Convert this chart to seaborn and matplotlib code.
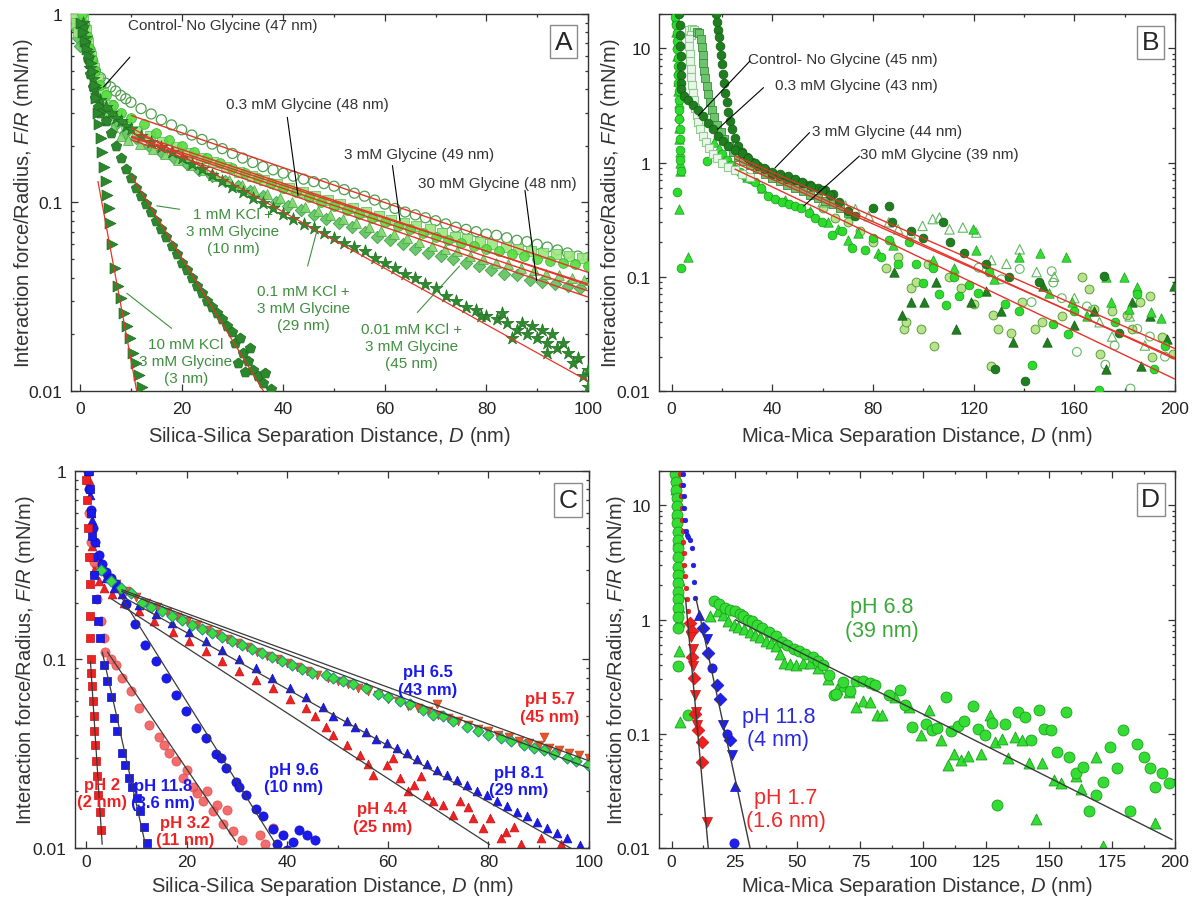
import matplotlib
matplotlib.use("Agg")
import numpy as np
import matplotlib.pyplot as plt
from matplotlib.ticker import LogLocator, NullFormatter, MultipleLocator
import seaborn as sns

sns.set_style("ticks")
plt.rcParams["font.family"] = ["Liberation Sans", "DejaVu Sans"]
plt.rcParams["mathtext.fontset"] = "custom"
plt.rcParams["mathtext.rm"] = "Liberation Sans"
plt.rcParams["mathtext.it"] = "Liberation Sans:italic"

# ---------------- Panel A: silica, glycine / KCl ----------------
a_ctrl = [(0.5,0.98),(1,0.86),(1.5,0.74),(2,0.64),(2.5,0.56),(3,0.5),(4,0.46),(5,0.43),(6,0.41),(7,0.39),(8,0.37),(9,0.355),
          (10,0.34),(12,0.315),(14,0.295),(16,0.275),(18,0.258),(20,0.243),(22,0.228),(24,0.216),(26,0.204),(28,0.193),
          (30,0.182),(32,0.172),(34,0.163),(36,0.155),(38,0.149),(40,0.143),(42,0.138),(44,0.133),(46,0.129),(48,0.126),
          (50,0.122),(52,0.117),(54,0.112),(56,0.108),(58,0.103),(60,0.098),(62,0.093),(64,0.089),(66,0.086),(68,0.083),
          (70,0.08),(72,0.077),(74,0.074),(76,0.072),(78,0.07),(80,0.068),(82,0.067),(84,0.065),(86,0.063),(88,0.062),
          (90,0.06),(92,0.058),(94,0.056),(96,0.054),(98,0.052),(100,0.051)]
a_g03 = [(0.3,1.0),(0.8,0.88),(1.3,0.76),(1.8,0.66),(2.3,0.58),(3,0.5),(4,0.42),(5,0.37),(6.5,0.33),(8,0.3),(10,0.28),
         (12.5,0.26),(15,0.235),(17.5,0.215),(20,0.2),(22.5,0.186),(25,0.173),(27.5,0.162),(30,0.152),(32.5,0.143),
         (35,0.135),(37.5,0.127),(40,0.12),(42.5,0.113),(45,0.107),(47.5,0.101),(50,0.096),(52.5,0.091),(55,0.087),
         (57.5,0.083),(60,0.079),(62.5,0.075),(65,0.072),(67.5,0.069),(70,0.066),(72.5,0.063),(75,0.061),(77.5,0.059),
         (80,0.057),(82.5,0.055),(85,0.053),(87.5,0.052),(90,0.05),(92.5,0.049),(95,0.048),(97.5,0.047),(100,0.046)]
a_g3 = [(-1.2,0.98),(-0.8,0.9),(-0.4,0.8),(0.6,0.95),(1.1,0.82),(1.6,0.7),(2.1,0.6),(2.8,0.52),(3.5,0.45),(4.5,0.38),
        (5.8,0.33),(7.2,0.29),(9,0.26),
        (11.2,0.24),(13.8,0.225),(16.2,0.21),(18.8,0.196),(21.2,0.184),(23.8,0.173),(26.2,0.163),(28.8,0.154),
        (31.2,0.146),(33.8,0.138),(36.2,0.131),(38.8,0.125),(41.2,0.119),(43.8,0.113),(46.2,0.108),(48.8,0.103),
        (51.2,0.098),(53.8,0.094),(56.2,0.089),(58.8,0.085),(61.2,0.081),(63.8,0.078),(66.2,0.075),(68.8,0.072),
        (71.2,0.069),(73.8,0.066),(76.2,0.064),(78.8,0.062),(81.2,0.06),(83.8,0.058),(86.2,0.057),(88.8,0.055),
        (91.2,0.054),(93.8,0.053),(96.2,0.052),(98.8,0.051)]
a_g30 = [(-1,0.85),(-0.5,0.75),(0,0.68),(0.4,0.9),(0.9,0.78),(1.4,0.67),(1.9,0.57),(2.5,0.48),(3.2,0.4),(4.2,0.33),
         (5.4,0.29),(7,0.26),(8.8,0.235),
         (11,0.22),(13.5,0.2),(16,0.185),(18.5,0.172),(21,0.16),(23.5,0.149),(26,0.139),(28.5,0.13),(31,0.122),
         (33.5,0.115),(36,0.108),(38.5,0.101),(41,0.096),(43.5,0.091),(46,0.086),(48.5,0.082),(51,0.078),(53.5,0.074),
         (56,0.07),(58.5,0.066),(61,0.063),(63.5,0.06),(66,0.057),(68.5,0.054),(71,0.052),(73.5,0.05),(76,0.048),
         (78.5,0.046),(81,0.044),(83.5,0.042),(86,0.041),(88.5,0.039),(91,0.038),(93.5,0.037),(96,0.036),(98.5,0.035)]
a_k001 = [(-0.5,0.95),(0.2,0.9),(1.0,0.8),(2.0,0.6),(3.5,0.42),(5,0.3),(6.5,0.25),(8,0.225),(9.5,0.215),(11.8,0.205),
          (14.3,0.192),(16.8,0.18),
          (19.3,0.169),(21.8,0.158),(24.3,0.148),(26.8,0.139),(29.3,0.131),(31.8,0.124),(34.3,0.117),(36.8,0.111),
          (39.3,0.105),(41.8,0.1),(44.3,0.095),(46.8,0.09),(49.3,0.086),(51.8,0.082),(54.3,0.078),(56.8,0.074),
          (59.3,0.071),(61.8,0.068),(64.3,0.065),(66.8,0.062),(69.3,0.059),(71.8,0.057),(74.3,0.055),(76.8,0.052),
          (79.3,0.05),(81.8,0.048),(84.3,0.047),(86.8,0.045),(89.3,0.044),(91.8,0.042),(94.3,0.041),(96.8,0.04),(99.3,0.039)]
a_k01 = [(0.5,0.9),(1,0.75),(1.5,0.62),(2,0.52),(2.5,0.45),(3,0.4),(4,0.35),(5,0.32),(6,0.3),(7,0.28),(8,0.27),(9,0.255),
         (10,0.245),(12,0.225),(14,0.21),(16,0.197),(18,0.185),(20,0.172),(22,0.161),(24,0.15),(26,0.14),(28,0.13),
         (30,0.121),(32,0.113),(34,0.105),(36,0.099),(38,0.093),(40,0.087),(42,0.082),(44,0.077),(46,0.073),(48,0.069),
         (50,0.065),(52,0.061),(54,0.058),(56,0.055),(58,0.051),(60,0.048),(62,0.045),(64,0.042),(66,0.04),(68,0.037),
         (70,0.035),(72,0.032),(74,0.03),(76,0.028),(78,0.027),(80,0.025),(82,0.024),(84,0.023),(86,0.021),(88,0.02),
         (90,0.019),(92,0.018),(94,0.017),(96,0.016),(98,0.015),(100,0.013),(83,0.026),(87,0.023),(89,0.022),(91,0.021),
         (93,0.02),(95,0.018),(97,0.014),(99,0.012),(100,0.0105),(79,0.025),(85,0.019),(92,0.016)]
a_k1 = [(0.5,0.85),(1,0.7),(1.5,0.58),(2,0.48),(2.5,0.41),(3,0.36),(3.5,0.32),(4,0.3),(5,0.27),(6,0.235),(7,0.2),
        (8,0.172),(9,0.15),(10,0.135),(11,0.12),(12,0.108),(13,0.098),(14,0.089),(15,0.08),(16,0.072),(17,0.066),
        (18,0.059),(19,0.053),(20,0.048),(21,0.044),(22,0.04),(23,0.036),(24,0.033),(25,0.03),(26,0.028),(27,0.026),
        (28,0.024),(29,0.022),(30,0.0205),(30.5,0.018),(31.5,0.019),(32,0.016),(33,0.0145),(33.5,0.017),(34,0.013),
        (35,0.012),(36,0.011),(36.5,0.0125),(37.5,0.0102),(31,0.014),(32.5,0.0126)]
a_k10 = [(0.2,0.9),(0.6,0.8),(1,0.72),(1.4,0.65),(1.8,0.6),(2.2,0.55),(2.6,0.5),(2.9,0.42),(3.2,0.36),(3.5,0.3),
         (3.8,0.26),(4.1,0.22),(4.4,0.185),(4.7,0.155),(5,0.13),(5.3,0.11),(5.6,0.094),(5.9,0.078),(6.3,0.06),
         (6.9,0.045),(7.5,0.036),(8.1,0.031),(8.7,0.026),(9.3,0.022),(9.9,0.019),(10.5,0.016),(11.1,0.014),
         (11.6,0.0122),(12.1,0.0105)]
a_fits = [((10,0.29),(100,0.0426)), ((10,0.235),(100,0.0365)), ((10,0.225),(100,0.037)), ((10,0.215),(100,0.0315)),
          ((10,0.222),(100,0.034)), ((10,0.25),(100,0.0113)), ((10,0.14),(36.3,0.0098)), ((3.5,0.13),(11.2,0.0098))]
a_labels = ["Control- No Glycine (47 nm)", "0.3 mM Glycine (48 nm)", "3 mM Glycine (49 nm)", "30 mM Glycine (48 nm)",
            "1 mM KCl +\n3 mM Glycine\n(10 nm)", "0.1 mM KCl +\n3 mM Glycine\n(29 nm)",
            "0.01 mM KCl +\n3 mM Glycine\n(45 nm)", "10 mM KCl\n3 mM Glycine\n(3 nm)"]

# ---------------- Panel B: mica, glycine ----------------
b_bright_c = [(1.5,19),(1.8,16),(2,13.5),(2.2,11.5),(2.3,9.8),(2.4,8.3),(2.5,7),(2.6,5.9),(2.7,5),(2.8,4.2),(2.9,3.5),
              (3,2.9),(3.1,2.4),(3.2,1.95),(3.3,1.6),(3.4,1.3),(3.5,1.05),(3.6,0.85),(2.3,0.55),(3.9,0.12),(13.9,1.03),
              (20,1.2),(22,1.05),(23.5,0.95),(25,0.87),(27,0.82),(29,0.77),(31,0.72),(33,0.67),(35.5,0.6),(38.4,0.51),
              (41,0.48),(43.8,0.45),(46.5,0.43),(49.1,0.42),(51.5,0.4),(54.4,0.365),(57,0.33),(59.8,0.3),(63.7,0.23),
              (67.7,0.25),(71.7,0.18),(77,0.17),(80,0.22),(83,0.15),(86.3,0.21),(90,0.13),(94.3,0.2),(97,0.13),
              (99.7,0.089),(104,0.12),(106.4,0.071),(109,0.057),(112,0.1),(114.3,0.068),(118,0.085),(121.6,0.072),
              (126,0.11),(132.3,0.058),(138,0.05),(143,0.017),(151.6,0.0385),(157.6,0.0316),(160,0.05),(169.6,0.0102),
              (176,0.04),(185,0.07),(191.7,0.0155),(196,0.025)]
b_bright_t = [(1.6,18),(1.9,14),(2.1,11),(2.3,8.5),(2.5,6.5),(2.6,5.2),(2.7,4.2),(2.8,3.3),(2.9,2.6),(3,2),(3.1,1.6),
              (3.2,1.25),(3.3,1.0),(3.3,0.85),(3,0.39),(6.5,0.148),(17,1.5),(19,1.35),(30,0.75),(36,0.6),(45,0.47),
              (55,0.38),(62,0.3),(66,0.26),(70,0.21),(74,0.24),(82,0.16),(88,0.19),(104,0.14),(112,0.12),(119.6,0.26),
              (121,0.17),(128,0.095),(138,0.15),(146.5,0.16),(150,0.072),(156.5,0.15),(159.2,0.06),(165,0.045),
              (172.5,0.1),(174.4,0.06),(179.8,0.1),(181.6,0.052),(185,0.081),(190.4,0.049),(194.4,0.044)]
b_dark_c = [(3,20),(3.2,16),(3.4,13),(3.5,10.5),(3.6,8.5),(3.7,7),(3.8,5.8),(3.9,5),(3.9,4.4),(4.8,3.8),(6.5,3.5),
            (8.5,3.2),(10.5,2.9),(12.5,2.55),(14.5,2.24),(16.5,1.95),(18.5,1.71),(20.5,1.55),(22.5,1.4),(25,1.3),
            (27.8,1.22),(30.5,1.1),(33,1.0),(36.5,0.9),(39.8,0.82),(43,0.79),(46.4,0.76),(49,0.72),(51.8,0.67),
            (55.5,0.62),(59.8,0.58),(63,0.52),(66.4,0.45),(70,0.38),(73,0.34),(80,0.4),(86.3,0.42),(87.6,0.3),(95,0.25),
            (100,0.22),(108,0.3),(110.4,0.2),(116,0.16),(125,0.13),(128.4,0.0155),(134,0.1),(140.4,0.0123),(146,0.09),
            (171.7,0.102),(177.6,0.032)]
b_dark2 = [(17.5,20),(18,17),(18.4,14.5),(18.8,12.5),(19.2,10.5),(19.6,8.8),(20,7.3),(20.4,6),(20.8,5),(21.3,4.1),
           (21.8,3.4),(22.4,2.8),(23.2,2.3),(24,1.95),(25,1.65),(26.5,1.4),(28,1.25),(30,1.12),(32,1.02),(34.5,0.94),
           (37,0.87),(40,0.8),(43,0.76),(46,0.72),(49,0.7),(52,0.66),(55,0.63),(58,0.6),(61,0.57),(64,0.53)]
b_open_s = [(7,14.5),(8,14.8),(9,14.5),(10,14),(7.5,13),(6.8,12),(7,10.5),(7.2,9),(7.4,7.7),(7.6,6.6),(7.8,5.6),
            (8.1,4.8),(8.4,4.1),(8.8,3.5),(9.3,3),(9.9,2.6),(10.6,2.25),(11.4,1.95),(12.4,1.7),(13.5,1.5),(15,1.33),
            (16.5,1.2),(18,1.1),(20,1.0),(22.5,0.92),(25,0.86),(28,0.8),(31,0.75)]
b_mid_s = [(10,14),(11,13.5),(11.6,12),(12,10.3),(12.3,8.8),(12.6,7.5),(13,6.4),(13.4,5.5),(13.9,4.7),(14.5,4),
           (15.2,3.4),(16,2.9),(17,2.5),(18.2,2.15),(19.5,1.85),(21,1.6),(22.7,1.4),(24.5,1.25),(26.5,1.13),
           (28.5,1.04),(31,0.95),(34,0.87),(37,0.8),(40,0.74),(43,0.69),(46,0.64),(49,0.6),(52,0.56),(55,0.52),
           (58,0.49),(61,0.46),(64,0.43),(67,0.4),(70,0.36)]
b_open_t = [(60,0.45),(64,0.44),(69,0.42),(73,0.39),(78.3,0.34),(86.3,0.3),(90,0.26),(95,0.24),(99.7,0.279),
            (103.7,0.32),(106.4,0.33),(110.4,0.26),(115.7,0.27),(121,0.244),(127,0.14),(133,0.13),(138.3,0.174),
            (145,0.11),(152,0.1),(160,0.065),(166,0.05),(170,0.04),(175,0.03),(182,0.045),(188,0.025)]
b_open_c = [(122,0.12),(131,0.095),(138.3,0.117),(143,0.06),(151,0.112),(151.6,0.089),(155,0.065),(161,0.022),
            (165,0.055),(172.3,0.017),(176,0.025),(182.3,0.0105),(185,0.035),(190,0.03),(196,0.02)]
b_dark_t = [(88.3,0.11),(91.6,0.046),(95,0.06),(100.4,0.06),(105,0.09),(113,0.035),(119,0.06),(125,0.075),(131,0.05),
            (135.6,0.027),(147.5,0.083),(149,0.027),(160,0.038),(168,0.05),(172.5,0.0155),(183,0.06),(186.4,0.0166),
            (190,0.045),(197,0.0285),(199.5,0.083)]
b_light_c = [(60,0.4),(65,0.33),(70,0.3),(75,0.25),(80,0.2),(85,0.12),(90,0.15),(92.5,0.035),(93,0.04),(95,0.08),
             (97,0.09),(99,0.035),(102,0.13),(104.3,0.025),(110,0.1),(115,0.08),(120,0.058),(127,0.0166),(127.7,0.046),
             (129.7,0.035),(135,0.032),(139,0.06),(144.3,0.035),(147,0.04),(155,0.045),(163,0.1),(165.7,0.078),
             (167.7,0.052),(170,0.021),(175,0.05),(181,0.046),(183,0.035),(186,0.06),(190,0.068),(191,0.02),
             (195,0.03),(199,0.021)]
b_fits = [((25,1.15),(200,0.0235)), ((25,1.08),(200,0.019)), ((25,1.0),(200,0.0195)), ((25,0.88),(200,0.0127))]
b_labels = ["Control- No Glycine (45 nm)", "0.3 mM Glycine (43 nm)", "3 mM Glycine (44 nm)", "30 mM Glycine (39 nm)"]

# ---------------- Panel C: silica, pH ----------------
c_ph2 = [(0,0.9),(0.2,0.7),(0.4,0.5),(0.55,0.35),(0.7,0.25),(0.8,0.17),(0.85,0.13),(0.9,0.1),(1.05,0.085),(1.2,0.072),
         (1.35,0.06),(1.5,0.05),(1.65,0.042),(1.8,0.035),(2,0.029),(2.2,0.024),(2.45,0.019),(2.75,0.0155),(3,0.0125)]
c_ph118 = [(0.5,1.0),(0.7,0.8),(0.9,0.6),(1.1,0.45),(1.3,0.35),(1.6,0.28),(2,0.21),(2.4,0.16),(2.86,0.13),(3.5,0.094),
           (4.2,0.077),(4.85,0.063),(5.5,0.049),(6.2,0.042),(7.2,0.032),(7.8,0.0276),(8.5,0.0234),(9.2,0.021),
           (10.2,0.0185),(10.8,0.0157),(11.5,0.013),(12.2,0.0106)]
c_ph32 = [(0.5,0.6),(1,0.42),(1.5,0.33),(2.2,0.21),(2.9,0.16),(3.5,0.13),(3.85,0.11),(5,0.1),(5.85,0.094),(7.2,0.08),
          (8.85,0.068),(10.5,0.055),(12.5,0.045),(14.5,0.039),(15.5,0.035),(16.5,0.032),(17.8,0.029),(19.2,0.0235),
          (20,0.026),(21.2,0.021),(22,0.0195),(23.2,0.0177),(24,0.02),(25.2,0.0157),(26,0.017),(27.2,0.0134),
          (28,0.016),(29.2,0.0123),(31,0.011),(34.5,0.0117),(35.5,0.0105),(37.1,0.0128)]
c_ph96 = [(0.3,1.0),(0.6,0.8),(0.9,0.62),(1.3,0.5),(1.8,0.42),(2.5,0.36),(3.2,0.32),(4,0.29),(4.9,0.27),(5.85,0.25),
          (7.85,0.196),(9.8,0.154),(11.8,0.12),(13.8,0.098),(15.8,0.08),(17.8,0.065),(19.8,0.053),(21.8,0.0435),
          (23.8,0.0385),(25.8,0.0315),(26.8,0.03),(27.8,0.0266),(29.8,0.0224),(30.5,0.021),(31.8,0.019),(33.8,0.0162),
          (35.2,0.0148),(37.2,0.0126),(38,0.0105),(39.2,0.0117),(40,0.0098),(41.2,0.0108),(42.4,0.0125),(43.9,0.0117),
          (45.5,0.011)]
c_ph44 = [(0.5,0.9),(0.9,0.6),(1.2,0.4),(1.5,0.3),(2.5,0.26),(3.5,0.24),(5.2,0.222),(7.5,0.2),(10.5,0.18),(13.5,0.16),
          (17.2,0.14),(20.5,0.125),(23.8,0.111),(27,0.098),(30.5,0.087),(33.8,0.078),(37.1,0.071),(40.5,0.062),
          (43.8,0.0556),(45.5,0.05),(47.8,0.0436),(49.1,0.04),(51.8,0.035),(54.5,0.031),(56,0.028),(57.1,0.0245),
          (59.8,0.0276),(61,0.03),(62.4,0.0235),(64,0.02),(65.1,0.0216),(66.5,0.024),(67.7,0.019),(69,0.0177),
          (71,0.017),(73,0.015),(74.4,0.0177),(76,0.0165),(77,0.0145),(79,0.0128),(80.4,0.0145),(82.4,0.0113),
          (83.5,0.0122),(85,0.013),(86.4,0.0105),(90.4,0.0113),(94.4,0.0105)]
c_ph81 = [(0.4,1.0),(0.8,0.75),(1.2,0.55),(1.7,0.42),(2.3,0.35),(3,0.3),(4,0.27),(5.5,0.24),(7.2,0.222),(10.5,0.195),
          (13.8,0.175),(17,0.157),(20.5,0.14),(23.8,0.125),(27.1,0.112),(30.5,0.1),(33.8,0.09),(37,0.08),(40.5,0.071),
          (43.8,0.063),(47.1,0.056),(49.1,0.05),(51.8,0.047),(53.5,0.044),(55.7,0.041),(57.7,0.038),(59.8,0.036),
          (61.8,0.034),(63.8,0.032),(65.7,0.0295),(67.7,0.028),(69.7,0.026),(71.7,0.0245),(73.7,0.023),(75.7,0.0215),
          (77.7,0.02),(79.7,0.019),(81.7,0.0178),(83.7,0.0168),(85.7,0.0155),(87.7,0.0148),(89.7,0.0137),
          (91.7,0.0128),(93.7,0.012),(95.7,0.0113),(98.3,0.0104),(100,0.0097)]
c_ph65 = [(3,0.3),(5,0.26),(7,0.24),(9,0.225),(11.2,0.2),(13,0.19),(15,0.18),(17,0.17),(19,0.162),(21,0.153),(23,0.146),
          (25,0.139),(27,0.132),(29,0.125),(31,0.119),(33,0.113),(35,0.108),(37,0.103),(39,0.098),(41,0.093),(43,0.089),
          (45,0.085),(47.8,0.083),(49.1,0.08),(51,0.077),(53,0.074),(55.7,0.071),(58,0.066),(60,0.063),(62.4,0.06),
          (64.5,0.058),(67,0.054),(69,0.051),(71,0.05),(73,0.047),(75.7,0.0436),(78,0.042),(80,0.04),(82.4,0.0385),
          (84.5,0.037),(87,0.035),(89,0.034),(91,0.033),(93,0.0315),(95.7,0.03),(97.5,0.029),(99.7,0.0275)]
c_ph57 = [(2,0.3),(4,0.27),(6,0.25),(8,0.23),(10,0.215),(12,0.2),(14,0.19),(16,0.178),(18,0.168),(20,0.16),(22,0.152),
          (24,0.144),(26,0.136),(28,0.129),(30,0.122),(32,0.116),(34,0.11),(36,0.105),(38,0.1),(40,0.096),(42,0.091),
          (44,0.087),(46,0.083),(48,0.08),(50,0.077),(52,0.074),(54,0.071),(56,0.068),(58,0.065),(60,0.062),(62,0.06),
          (64,0.057),(66,0.055),(68,0.053),(69.7,0.058),(70,0.051),(72,0.049),(74,0.047),(76,0.045),(78,0.043),
          (80,0.042),(82,0.04),(84,0.039),(86,0.037),(88,0.036),(90,0.035),(91,0.039),(92,0.034),(94,0.033),
          (96,0.032),(98,0.031),(100,0.03)]
c_fits = [((0.86,0.098),(3.2,0.0104)), ((3.2,0.11),(11.8,0.0104)), ((4.2,0.11),(29.8,0.0108)),
          ((5.85,0.24),(37.8,0.0104)), ((5,0.21),(80.3,0.0104)), ((8,0.21),(100,0.0088)),
          ((7,0.23),(100,0.0265)), ((7,0.235),(100,0.029))]
c_labels = ["pH 2\n(2 nm)", "pH 11.8\n(3.6 nm)", "pH 3.2\n(11 nm)", "pH 9.6\n(10 nm)", "pH 4.4\n(25 nm)",
            "pH 8.1\n(29 nm)", "pH 6.5\n(43 nm)", "pH 5.7\n(45 nm)"]

# ---------------- Panel D: mica, pH ----------------
d_c = [(1.5,19),(1.7,16),(1.9,13.5),(2,11.5),(2.1,9.8),(2.2,8.3),(2.3,7),(2.4,5.9),(2.5,5),(2.5,4.2),(2.5,3.5),
       (2.5,2.9),(2.5,2.45),(2.6,2.1),(2.6,1.76),(2.7,1.5),(2.7,1.26),(2.7,1.05),(2.5,0.85),(2.5,0.39),(6.5,0.145),
       (16.9,1.45),(19,1.38),(21.2,1.27),(23.2,1.22),(25.2,1.18),(27,1.12),(28.5,1.07),(30.3,1.0),(32,0.97),(34,0.9),
       (36,0.85),(38.5,0.78),(41.3,0.72),(44,0.64),(46,0.6),(48.5,0.55),(50.5,0.53),(53,0.5),(56,0.47),(58,0.43),
       (60,0.4),(62.6,0.33),(64.5,0.22),(65.3,0.223),(68,0.283),(70.7,0.238),(73.3,0.29),(76.1,0.29),(78.8,0.28),
       (80.8,0.27),(86.2,0.22),(90.9,0.24),(92.9,0.18),(95.6,0.114),(100.9,0.122),(103.6,0.107),(105.6,0.113),
       (109,0.208),(111,0.105),(113.7,0.118),(116.3,0.13),(119.7,0.176),(121.7,0.11),(124.4,0.097),(127.1,0.125),
       (129.1,0.0238),(132.5,0.122),(137.8,0.154),(140.5,0.14),(142.9,0.0875),(145.9,0.16),(147.9,0.11),
       (150.6,0.107),(153.3,0.069),(156.6,0.155),(158,0.063),(160.7,0.045),(163.4,0.051),(166,0.021),(168.7,0.029),
       (171.4,0.038),(174.1,0.0766),(176.8,0.05),(179.5,0.107),(182.2,0.021),(184.8,0.082),(187.5,0.063),
       (190.2,0.05),(192.2,0.034),(194.9,0.045),(197.6,0.037)]
d_t = [(1.6,18),(1.8,14),(2,11),(2.2,8.5),(2.4,6.5),(2.6,5),(2.7,3.8),(2.8,2.9),(2.9,2.2),(3,1.7),(3,1.3),(3,0.97),
       (3,0.53),(3.2,0.126),(15.2,1.07),(18.5,1.2),(20.5,1.1),(22.5,0.98),(24.6,0.9),(26.5,0.86),(28.6,0.82),(31,0.78),
       (33.3,0.74),(35.3,0.7),(37.3,0.65),(39.3,0.62),(41.3,0.59),(43,0.5),(44.6,0.42),(47,0.41),(49.3,0.4),(52,0.42),
       (55,0.42),(58,0.38),(62,0.3),(65.8,0.245),(68,0.26),(70.4,0.23),(73.3,0.17),(76.1,0.195),(78.8,0.19),
       (81.4,0.145),(83.4,0.145),(88.8,0.208),(94.2,0.17),(98.9,0.097),(102.2,0.16),(107,0.0875),(109.7,0.053),
       (112.3,0.067),(115,0.059),(117.7,0.064),(123.1,0.067),(126.4,0.145),(128.4,0.085),(131.1,0.09),(133.8,0.061),
       (136.5,0.093),(139.2,0.088),(141.9,0.055),(144.6,0.018),(147.3,0.055),(151.9,0.039),(154.6,0.037),
       (160.7,0.043),(162.7,0.033),(168.7,0.063),(171.4,0.0105),(192.2,0.0166)]
d_red_col = [(3.5,19),(3.7,15),(3.9,12),(4,9.5),(4.2,7.5),(4.4,6),(4.6,4.8),(4.8,3.8),(5,3),(5.3,2.4),(5.6,1.9),
             (6,1.5),(6.5,1.2)]
d_red_dia = [(7.2,0.94),(7.9,0.8),(8.1,0.47),(8.9,0.31),(9.3,0.15),(10.4,0.107),(11.9,0.085),(11.9,0.057)]
d_red_tri = [(7.5,0.7),(8.3,0.55),(8.5,0.39),(9.1,0.22),(9.8,0.155),(10,0.12),(13.9,0.017)]
d_blue_col = [(4.5,19),(4.7,15),(4.9,12),(5.1,9.5),(5.3,7.5),(5.6,6),(6,5.5),(6.5,5.3),(7.2,5),(7.9,4.2),(8.5,3),
              (9,2.15),(9.4,1.55)]
d_blue_dia = [(12.6,0.85),(14.6,0.51),(17.9,0.27),(19.3,0.2),(23.3,0.0875)]
d_blue_tri = [(13.9,0.67),(20.6,0.12),(24,0.065)]
d_blue_up = [(11,1.1),(25.2,0.035)]
d_blue_c = [(16,0.38),(22,0.1),(24.6,0.011)]
d_fits = [((25.2,1.0),(199,0.0118)), ((9.5,1.6),(31.3,0.0097)), ((5.5,1.55),(14.6,0.0097))]
d_labels = ["pH 6.8\n(39 nm)", "pH 11.8\n(4 nm)", "pH 1.7\n(1.6 nm)"]

RED_FIT = "#e8332b"
GRAY_FIT = "#3a3a3a"


def pts(ax, data, marker="o", fc="green", ec="black", s=30, lw=0.6, hollow=False, z=2, alpha=1.0):
    d = [p[0] for p in data]
    f = [p[1] for p in data]
    sns.scatterplot(x=d, y=f, ax=ax, marker=marker, s=s, color=fc, edgecolor=ec,
                    linewidth=lw, legend=False, zorder=z, alpha=alpha)
    if hollow:
        ax.collections[-1].set_facecolor("none")


def fits(ax, segs, color, lw=1.0):
    for (d0, f0), (d1, f1) in segs:
        ax.plot([d0, d1], [f0, f1], color=color, lw=lw, zorder=5, solid_capstyle="butt")


def leader(ax, p0, p1, color="black"):
    ax.plot([p0[0], p1[0]], [p0[1], p1[1]], color=color, lw=0.8, zorder=6)


def style(ax, xlim, ylim, xmaj, xmin, yt, ytl, xlabel, letter, lx, ly, xlab_y, ylab_x, xpad):
    ax.set_yscale("log")
    ax.set_xlim(*xlim)
    ax.set_ylim(*ylim)
    ax.xaxis.set_major_locator(MultipleLocator(xmaj))
    ax.xaxis.set_minor_locator(MultipleLocator(xmin))
    ax.set_yticks(yt, labels=ytl)
    ax.yaxis.set_minor_locator(LogLocator(base=10, subs=np.arange(2, 10)))
    ax.yaxis.set_minor_formatter(NullFormatter())
    ax.tick_params(which="both", direction="in", top=True, right=True, colors="#333333",
                   labelcolor="#222222", labelsize=12.5, width=0.9)
    ax.tick_params(which="major", length=5)
    ax.tick_params(axis="x", which="major", pad=xpad)
    ax.tick_params(axis="y", which="major", pad=6)
    ax.tick_params(which="minor", length=2.5)
    for sp in ax.spines.values():
        sp.set_color("#333333")
        sp.set_linewidth(1.0)
    ax.set_xlabel(xlabel, fontsize=14.5, color="#333333")
    ax.set_ylabel(r"Interaction force/Radius, $\mathit{F/R}$ (mN/m)", fontsize=14.5, color="#333333")
    ax.xaxis.set_label_coords(0.5, xlab_y)
    ax.yaxis.set_label_coords(ylab_x, 0.5)
    ax.text(lx, ly, letter, transform=ax.transAxes, fontsize=19, ha="center", va="center", zorder=10,
            bbox=dict(boxstyle="square,pad=0.18", fc="white", ec="#8a8a8a", lw=1.0))


fig = plt.figure(figsize=(11.95, 9.03), dpi=100)
fig.patch.set_facecolor("white")
axA = fig.add_axes([0.0594, 0.5659, 0.4326, 0.4175])
axB = fig.add_axes([0.5515, 0.5659, 0.4318, 0.4175])
axC = fig.add_axes([0.0628, 0.0598, 0.4301, 0.4175])
axD = fig.add_axes([0.5515, 0.0598, 0.4318, 0.4175])

# ---- A ----
pts(axA, a_ctrl, "o", "white", "#4f9f4f", s=52, lw=0.9, hollow=True, z=2)
pts(axA, a_g30, "D", "#5cc25c", "#3d9a3d", s=40, lw=0.6, z=3, alpha=0.9)
pts(axA, a_k001, "^", "#7fd86a", "#4aa84a", s=50, lw=0.6, z=3, alpha=0.9)
pts(axA, a_g3, "s", "#9be77e", "#5cbf5c", s=42, lw=0.6, z=3, alpha=0.9)
pts(axA, a_g03, "o", "#55dd3c", "#3fb33f", s=50, lw=0.6, z=3, alpha=0.9)
pts(axA, a_k01, "*", "#2e8b2e", "#1f6f1f", s=95, lw=0.5, z=4)
pts(axA, a_k1, "p", "#2c882c", "#1d6a1d", s=62, lw=0.5, z=4)
pts(axA, a_k10, ">", "#2c882c", "#1d6a1d", s=62, lw=0.5, z=4)
fits(axA, a_fits[:5], RED_FIT, lw=1.0)
fits(axA, a_fits[5:], RED_FIT, lw=0.9)
style(axA, (-1.8, 100), (0.01, 1), 20, 10, [0.01, 0.1, 1], ["0.01", "0.1", "1"],
      r"Silica-Silica Separation Distance, $\mathit{D}$ (nm)", "A", 0.953, 0.927, -0.088, -0.07, 7)
TXT = "#333333"
KCL = "#3f8f3f"
FS = 11
axA.text(9.5, 0.875, a_labels[0], fontsize=FS, color=TXT, ha="left", va="center")
axA.text(44.8, 0.333, a_labels[1], fontsize=FS, color=TXT, ha="center", va="center")
axA.text(66.8, 0.181, a_labels[2], fontsize=FS, color=TXT, ha="center", va="center")
axA.text(82.2, 0.127, a_labels[3], fontsize=FS, color=TXT, ha="center", va="center")
axA.text(30.1, 0.0706, a_labels[4], fontsize=FS, color=KCL, ha="center", va="center", linespacing=1.25)
axA.text(44.0, 0.0275, a_labels[5], fontsize=FS, color=KCL, ha="center", va="center", linespacing=1.25)
axA.text(65.3, 0.0173, a_labels[6], fontsize=FS, color=KCL, ha="center", va="center", linespacing=1.25)
axA.text(20.8, 0.0144, a_labels[7], fontsize=FS, color=KCL, ha="center", va="center", linespacing=1.25, zorder=7)
leader(axA, (9.8, 0.59), (4.6, 0.41))
leader(axA, (40.8, 0.283), (42.9, 0.109))
leader(axA, (61.5, 0.157), (63.0, 0.08))
leader(axA, (87.6, 0.116), (89.9, 0.0385))
leader(axA, (19.6, 0.092), (15.1, 0.096), KCL)
leader(axA, (44.8, 0.046), (46.7, 0.072), KCL)
leader(axA, (66.4, 0.0261), (74.7, 0.046), KCL)
leader(axA, (18.0, 0.0215), (9.2, 0.033), KCL)

# ---- B ----
pts(axB, b_light_c, "o", "#b7e38c", "#5a9e3a", s=40, lw=0.7, z=2)
pts(axB, b_open_t, "^", "white", "#62b862", s=46, lw=0.8, hollow=True, z=2)
pts(axB, b_open_c, "o", "white", "#62b862", s=40, lw=0.8, hollow=True, z=2)
pts(axB, b_dark_t, "^", "#1f7f1f", "#145c14", s=46, lw=0.5, z=3)
pts(axB, b_bright_t, "^", "#33dd33", "#1f9f1f", s=46, lw=0.5, z=3)
pts(axB, b_bright_c, "o", "#2bdc2b", "#1a9a1a", s=40, lw=0.5, z=3)
pts(axB, b_open_s, "s", "#eaf6ea", "#8fcc8f", s=34, lw=0.8, z=3)
pts(axB, b_mid_s, "s", "#6cc46c", "#3d8d3d", s=34, lw=0.6, z=3)
pts(axB, b_dark2, "o", "#1f7f1f", "#145c14", s=40, lw=0.5, z=3)
pts(axB, b_dark_c, "o", "#1f7f1f", "#145c14", s=40, lw=0.5, z=3)
fits(axB, b_fits, RED_FIT, lw=1.0)
style(axB, (-5, 200), (0.01, 20), 40, 20, [0.01, 0.1, 1, 10], ["0.01", "0.1", "1", "10"],
      r"Mica-Mica Separation Distance, $\mathit{D}$ (nm)", "B", 0.953, 0.925, -0.088, -0.072, 7)
axB.text(30.3, 8.0, b_labels[0], fontsize=FS, color=TXT, ha="left", va="center")
axB.text(41.1, 4.74, b_labels[1], fontsize=FS, color=TXT, ha="left", va="center")
axB.text(55.9, 1.89, b_labels[2], fontsize=FS, color=TXT, ha="left", va="center")
axB.text(74.7, 1.18, b_labels[3], fontsize=FS, color=TXT, ha="left", va="center")
leader(axB, (31.1, 7.74), (10.5, 2.56))
leader(axB, (36.5, 4.53), (18.2, 1.95))
leader(axB, (54.8, 1.83), (41.1, 0.9))
leader(axB, (74.6, 1.14), (52.5, 0.417))

# ---- C ----
RED = "#ee2222"
BLUE = "#1a1aee"
pts(axC, c_ph57, "v", "#e8552a", "#b8421c", s=40, lw=0.5, z=2)
pts(axC, c_ph65, "D", "#3ddc3d", "#1f8a8a", s=32, lw=0.7, z=3)
pts(axC, c_ph44, "^", RED, "#c41414", s=40, lw=0.5, z=2)
pts(axC, c_ph81, "^", BLUE, "#1010b0", s=40, lw=0.5, z=2)
pts(axC, c_ph32, "o", "#f25454", "#e04040", s=44, lw=0.5, z=2, alpha=0.85)
pts(axC, c_ph96, "o", BLUE, "#1010b0", s=44, lw=0.5, z=2)
pts(axC, c_ph118, "s", BLUE, "#1010b0", s=32, lw=0.5, z=3)
pts(axC, c_ph2, "s", RED, "#c41414", s=30, lw=0.5, z=3)
fits(axC, c_fits, GRAY_FIT, lw=0.9)
style(axC, (-2.2, 100), (0.01, 1), 20, 10, [0.01, 0.1, 1], ["0.01", "0.1", "1"],
      r"Silica-Silica Separation Distance, $\mathit{D}$ (nm)", "C", 0.959, 0.923, -0.07, -0.074, 4)
c_cols = [RED, BLUE, RED, BLUE, RED, BLUE, BLUE, RED]
c_pos = [(3.2, 0.0196), (15.3, 0.0193), (19.7, 0.0123), (41.3, 0.0236), (58.9, 0.0145),
         (86.1, 0.0227), (68.0, 0.0775), (92.2, 0.0556)]
for lab, col, (x, y) in zip(c_labels, c_cols, c_pos):
    axC.text(x, y, lab, fontsize=12, fontweight="bold", color=col, ha="center", va="center",
             linespacing=1.2, zorder=7)

# ---- D ----
pts(axD, d_t, "^", "#33dd33", "#1f9f1f", s=62, lw=0.6, z=2)
pts(axD, d_c, "o", "#33dd33", "#1f9f1f", s=62, lw=0.6, z=2)
pts(axD, d_red_col, "o", "#ee2020", "#cc1111", s=12, lw=0.3, z=3)
pts(axD, d_blue_col, "o", "#2020ee", "#1111bb", s=12, lw=0.3, z=3)
pts(axD, d_red_dia, "D", "#ee2020", "#cc1111", s=42, lw=0.5, z=3)
pts(axD, d_red_tri, "v", "#ee2020", "#cc1111", s=52, lw=0.5, z=3)
pts(axD, d_blue_dia, "D", "#2020ee", "#1111bb", s=42, lw=0.5, z=3)
pts(axD, d_blue_tri, "v", "#2020ee", "#1111bb", s=52, lw=0.5, z=3)
pts(axD, d_blue_up, "^", "#2020ee", "#1111bb", s=52, lw=0.5, z=3)
pts(axD, d_blue_c, "o", "#2020ee", "#1111bb", s=44, lw=0.5, z=3)
fits(axD, d_fits, GRAY_FIT, lw=1.0)
style(axD, (-5, 200), (0.01, 20), 25, 12.5, [0.01, 0.1, 1, 10], ["0.01", "0.1", "1", "10"],
      r"Mica-Mica Separation Distance, $\mathit{D}$ (nm)", "D", 0.953, 0.925, -0.07, -0.06, 4)
axD.text(83.4, 1.02, d_labels[0], fontsize=15.5, color="#3aa83a", ha="center", va="center", linespacing=1.15)
axD.text(42.4, 0.113, d_labels[1], fontsize=15.5, color="#2a2ae0", ha="center", va="center", linespacing=1.15)
axD.text(45.5, 0.0219, d_labels[2], fontsize=15.5, color="#ee2a2a", ha="center", va="center", linespacing=1.15)

fig.savefig("out.png", dpi=100, facecolor="white")
